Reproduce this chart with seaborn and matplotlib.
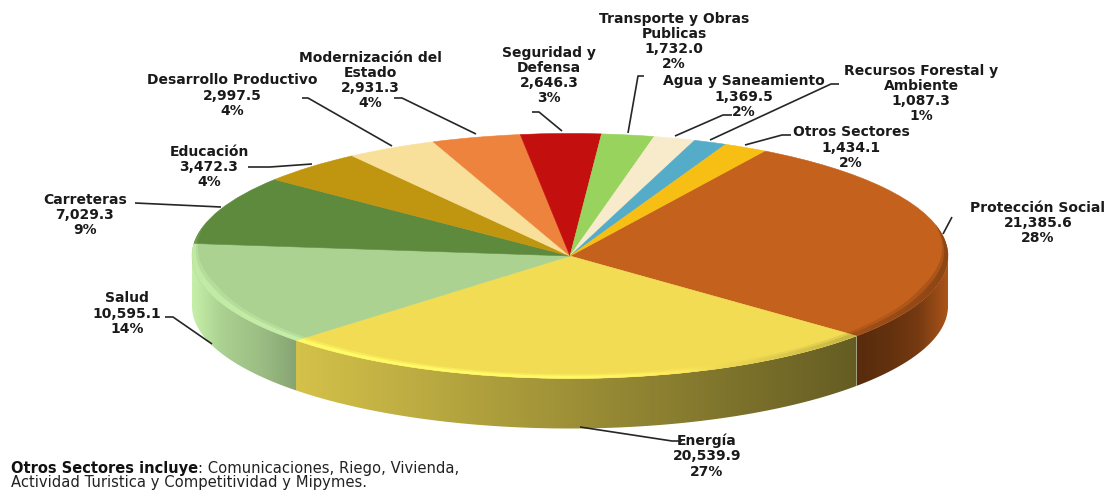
import numpy as np
import matplotlib
matplotlib.use("Agg")
import matplotlib.pyplot as plt
from matplotlib.colors import to_rgb
from matplotlib.patches import Polygon
from matplotlib.transforms import Affine2D
import seaborn as sns

names = ["Protección Social", "Energía", "Salud", "Carreteras", "Educación",
         "Desarrollo Productivo", "Modernización del\nEstado", "Seguridad y\nDefensa",
         "Transporte y Obras\nPublicas", "Agua y Saneamiento",
         "Recursos Forestal y\nAmbiente", "Otros Sectores"]
values = [21385.6, 20539.9, 10595.1, 7029.3, 3472.3, 2997.5, 2931.3, 2646.3,
          1732.0, 1369.5, 1087.3, 1434.1]
colors = ["#C4611D", "#F1DC54", "#ACD292", "#5E8A3E", "#C0950F", "#F9E09A",
          "#ED833C", "#C40F0F", "#98D35E", "#F8EBCB", "#55ACC8", "#F7BE14"]
label_pos = [(1038, 207), (707, 440), (127, 298), (85, 199), (209, 151), (232, 80),
             (370, 57), (549, 52), (674, 18), (744, 81), (921, 70), (851, 132)]
leaders = [[(952, 217), (943, 234)],
           [(580, 427), (672, 441), (682, 441)],
           [(165, 317), (173, 317), (212, 344)],
           [(135, 203), (221, 207)],
           [(248, 167), (270, 167), (312, 164)],
           [(302, 98), (308, 98), (392, 146)],
           [(394, 98), (402, 98), (476, 134)],
           [(532, 112), (539, 112), (562, 131)],
           [(644, 76), (638, 76), (628, 133)],
           [(732, 115), (723, 115), (675, 136)],
           [(839, 84), (831, 84), (710, 140)],
           [(791, 135), (782, 135), (745, 145)]]
note_bold = "Otros Sectores incluye"
note_rest = ": Comunicaciones, Riego, Vivienda,"
note_line2 = "Actividad Turistica y Competitividad y Mipymes."

W, H = 1108, 491
CX, CY, RX, RY, DEPTH = 570, 256, 378, 122.5, 50

sns.set_theme(style="white", rc={"font.family": "DejaVu Sans"})
palette = sns.color_palette(colors)

fig = plt.figure(figsize=(W / 100, H / 100), dpi=100)
ax = fig.add_axes([0, 0, 1, 1])
wedges, _ = ax.pie(values, colors=palette, startangle=59, counterclock=False,
                   radius=1, wedgeprops={"linewidth": 0.4, "zorder": 2})
for w, c in zip(wedges, palette):
    w.set_edgecolor(c)
ax.set_aspect("auto")
xlim = (-CX / RX, (W - CX) / RX)
ylim = ((CY - H) / RY, CY / RY)
d = DEPTH / RY

# brightness of the side wall, left to right across each visible slice
wall_ramps = {0: [0.45, 0.50, 0.60, 0.88],
              1: [0.88, 0.42],
              2: [1.10, 0.98, 0.90, 0.78]}


def rim_light(x):
    return np.interp(x, [-1, -0.6, 0.0, 0.3, 0.55, 0.8, 1.0],
                     [1.08, 1.10, 1.10, 1.04, 0.92, 0.80, 0.72])


def band(c, f):
    rgb = np.array(to_rgb(c))
    col = rgb[None, :] * f[:, None]
    over = np.clip(f - 1, 0, 1)[:, None]
    return np.clip(col + 0.35 * over, 0, 1)[None, :, :]


def clipped_image(img, poly, extent, zorder, alpha=1.0):
    im = ax.imshow(img, extent=extent, aspect="auto", zorder=zorder,
                   interpolation="bilinear", alpha=alpha)
    clip = Polygon(poly, closed=True, transform=ax.transData, fc="none", ec="none")
    ax.add_patch(clip)
    im.set_clip_path(clip)


def angle_span(w):
    a1, a2 = w.theta1 % 360, w.theta2 % 360
    if a2 <= a1:
        a2 += 360
    return a1, a2


RIM_LO, RIM_HI = 165, 375
for i, (w, c) in enumerate(zip(wedges, palette)):
    a1, a2 = angle_span(w)
    for shift in (0, 360):
        # side wall
        s, e = max(a1, 180 + shift), min(a2, 360 + shift)
        if e > s and i in wall_ramps:
            t = np.radians(np.linspace(s, e, 200))
            x, y = np.cos(t), np.sin(t)
            poly = np.r_[np.c_[x, y], np.c_[x[::-1], y[::-1] - d]]
            ramp = wall_ramps[i]
            u = np.linspace(0, 1, 400)
            f = np.interp(u, np.linspace(0, 1, len(ramp)), ramp)
            clipped_image(band(c, f), poly, [x.min(), x.max(), -2, 2], 1)
    for shift in (-360, 0, 360):
        # soft bevel on the top edge, fading out towards the back of the disc
        s, e = max(a1, RIM_LO + shift), min(a2, RIM_HI + shift)
        if e <= s:
            continue
        deg = np.linspace(s, e, 200)
        t = np.radians(deg)
        x, y = np.cos(t), np.sin(t)
        fade = np.clip(np.minimum(deg - RIM_LO - shift, RIM_HI + shift - deg) / 30, 0, 1)
        xs = np.linspace(-1, 1, 800)
        img = band(c, rim_light(xs))
        for width, alpha in [(0.036, 0.45), (0.022, 1.0)]:
            k = 1 - width * fade
            rim = np.r_[np.c_[x, y], np.c_[(x * k)[::-1], (y * k)[::-1]]]
            clipped_image(img, rim, [-1, 1, -2, 2], 3, alpha)

ax.set_xlim(*xlim)
ax.set_ylim(*ylim)
ax.axis("off")

px = Affine2D().scale(1 / W, -1 / H).translate(0, 1) + fig.transFigure
total = sum(values)
TXT = "#1a1a1a"
for name, v, (lx, ly), seg in zip(names, values, label_pos, leaders):
    s = f"{name}\n{v:,.1f}\n{v / total:.0%}"
    ax.text(lx, ly - 6.5, s, transform=px, ha="center", va="top",
            fontsize=10, fontweight="bold", color=TXT, linespacing=1.12,
            multialignment="center")
    sx, sy = zip(*seg)
    ax.plot(sx, sy, transform=px, color="#262626", lw=1.2, zorder=4, solid_capstyle="butt")

t1 = ax.text(11, 469, note_bold, transform=px, ha="left", va="center", fontsize=10.5,
             fontweight="bold", color="#111111")
fig.canvas.draw()
bb = t1.get_window_extent()
ax.text(bb.x1, H - 469, note_rest, transform=None, ha="left", va="center", fontsize=10.6,
        color="#222222")
ax.text(11, 483, note_line2, transform=px, ha="left", va="center", fontsize=10.6,
        color="#222222")

fig.savefig("out.png", dpi=100, facecolor="white")
